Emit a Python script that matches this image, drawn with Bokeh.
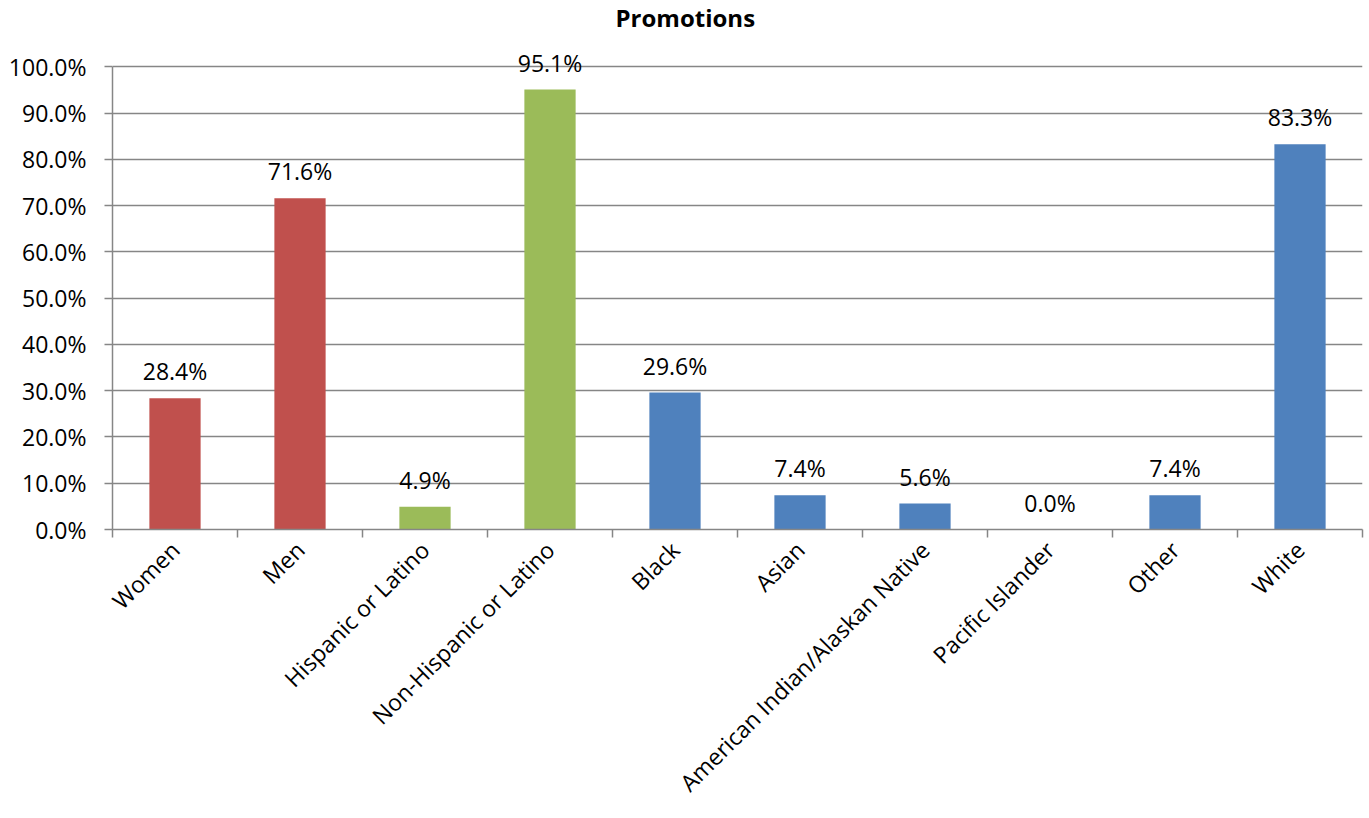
import math
from bokeh.plotting import figure
from bokeh.models import ColumnDataSource, FixedTicker, NumeralTickFormatter, Range1d, Title
from bokeh.core.properties import value
from bokeh.embed import file_html
from bokeh.resources import INLINE

categories = ["Women", "Men", "Hispanic or Latino", "Non-Hispanic or Latino", "Black",
              "Asian", "American Indian/Alaskan Native", "Pacific Islander", "Other", "White"]
values_pct = [28.4, 71.6, 4.9, 95.1, 29.6, 7.4, 5.6, 0.0, 7.4, 83.3]
groups = ["gender", "gender", "ethnicity", "ethnicity", "race", "race", "race", "race", "race", "race"]
group_colors = {"gender": "#C0504D", "ethnicity": "#9BBB59", "race": "#4F81BD"}
y_ticks = [0.0, 0.1, 0.2, 0.3, 0.4, 0.5, 0.6, 0.7, 0.8, 0.9, 1.0]

FONT = "Open Sans"
FS = "23px"
GRAY = "#868686"

xs = [i + 0.5 for i in range(len(categories))]
src = ColumnDataSource(dict(
    x=xs,
    top=[v / 100 for v in values_pct],
    color=[group_colors[g] for g in groups],
    label=[f"{v:.1f}%" for v in values_pct],
))

p = figure(width=1366, height=818, output_backend="svg", toolbar_location=None,
           x_range=Range1d(0, len(categories)), y_range=Range1d(0, 1.068),
           min_border_left=112, min_border_right=4, min_border_top=30, min_border_bottom=289)

p.vbar(x="x", top="top", bottom=0, width=0.41, color="color", line_color=None, source=src)
p.text(x="x", y="top", text="label", source=src, text_align="center", text_baseline="bottom",
       y_offset=-11, text_font=value(FONT), text_font_size=FS, text_color="#000000")

t = Title(text="Promotions", align="left", offset=503, standoff=0, vertical_align="top",
          text_line_height=0.5,
          text_font=FONT, text_font_size="24px", text_font_style="bold", text_color="#000000")
p.add_layout(t, "above")

p.outline_line_color = None
p.background_fill_color = "white"
p.border_fill_color = "white"
p.xgrid.grid_line_color = None
p.ygrid.grid_line_color = GRAY
p.ygrid.grid_line_width = 1.5

p.yaxis.ticker = FixedTicker(ticks=y_ticks)
p.yaxis.formatter = NumeralTickFormatter(format="0.0%")
p.yaxis.bounds = (0, 1)
p.yaxis.minor_tick_line_color = None
p.yaxis.major_tick_in = 0
p.yaxis.major_tick_out = 8
p.yaxis.major_label_standoff = 18

p.xaxis.ticker = FixedTicker(ticks=xs, minor_ticks=list(range(len(categories) + 1)))
p.xaxis.major_label_overrides = {x: c for x, c in zip(xs, categories)}
p.xaxis.minor_tick_in = 0
p.xaxis.minor_tick_out = 8
p.xaxis.major_label_orientation = math.pi / 4
p.xaxis.major_label_standoff = 8

for ax in (p.xaxis, p.yaxis):
    ax.axis_line_color = GRAY
    ax.axis_line_width = 1.5
    ax.major_tick_line_width = 1.5
    ax.minor_tick_line_width = 1.5
    ax.major_label_text_font = FONT
    ax.major_label_text_font_size = FS
    ax.major_label_text_color = "#000000"
p.yaxis.major_tick_line_color = GRAY
p.xaxis.major_tick_line_color = None
p.xaxis.minor_tick_line_color = GRAY

open("out.html", "w").write(file_html(p, INLINE))
